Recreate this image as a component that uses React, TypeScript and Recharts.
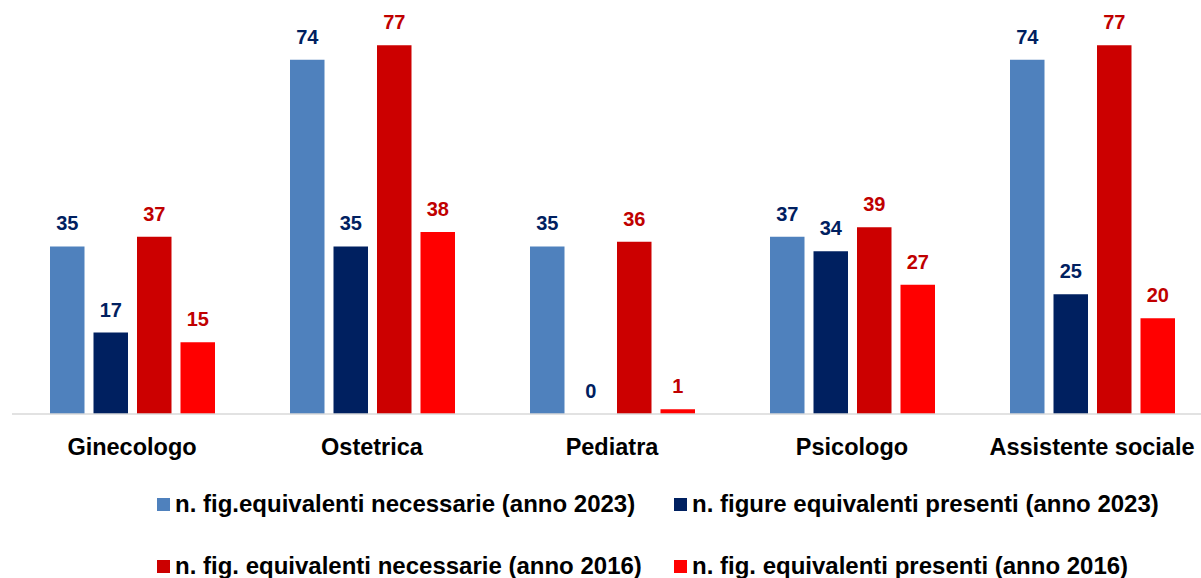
import { BarChart, Bar, XAxis, YAxis, LabelList } from "recharts";

// ─── Data ────────────────────────────────────────────────────────────────────

const categories = [
  "Ginecologo",
  "Ostetrica",
  "Pediatra",
  "Psicologo",
  "Assistente sociale",
];
const nec2023 = [35, 74, 35, 37, 74];
const pres2023 = [17, 35, 0, 34, 25];
const nec2016 = [37, 77, 36, 39, 77];
const pres2016 = [15, 38, 1, 27, 20];

const seriesNames = [
  "n. fig.equivalenti necessarie (anno 2023)",
  "n. figure equivalenti presenti (anno 2023)",
  "n. fig. equivalenti necessarie (anno 2016)",
  "n. fig. equivalenti presenti (anno 2016)",
];

const FONT = '"Liberation Sans", Arial, sans-serif';

const series = [
  { key: "nec2023", name: seriesNames[0], fill: "#4F81BD", label: "#002060" },
  { key: "pres2023", name: seriesNames[1], fill: "#002060", label: "#002060" },
  { key: "nec2016", name: seriesNames[2], fill: "#CC0000", label: "#C00000" },
  { key: "pres2016", name: seriesNames[3], fill: "#FF0000", label: "#C00000" },
];

const rows = categories.map((c, i) => ({
  category: c,
  nec2023: nec2023[i],
  pres2023: pres2023[i],
  nec2016: nec2016[i],
  pres2016: pres2016[i],
}));

// legend grid positions (2 x 2)
const legendSlots = [
  { left: 157, top: 492 },
  { left: 674, top: 492 },
  { left: 157, top: 554 },
  { left: 674, top: 554 },
];

// keeps a label on zero-valued bars without drawing a visible bar
const tinyMin = (value: number) => (value === 0 ? 0.01 : 0);

// ─── Component ────────────────────────────────────────────────────────────────

export default function App() {
  return (
    <div
      style={{
        position: "absolute",
        left: 0,
        top: 0,
        width: 1201,
        height: 578,
        overflow: "hidden",
        background: "#fff",
        fontFamily: FONT,
      }}
    >
      <BarChart
        width={1212}
        height={578}
        data={rows}
        margin={{ top: 31, right: 0, left: 12, bottom: 134 }}
        barGap={9}
        barSize={34.5}
      >
        <XAxis
          dataKey="category"
          height={30}
          axisLine={{ stroke: "#D9D9D9", strokeWidth: 1.5 }}
          tickLine={false}
          tickMargin={18}
          interval={0}
          tick={{ fill: "#000", fontSize: 23.5, fontWeight: 700, fontFamily: FONT }}
        />
        <YAxis hide domain={[0, 80]} />
        {series.map((s) => (
          <Bar
            key={s.key}
            dataKey={s.key}
            name={s.name}
            fill={s.fill}
            minPointSize={tinyMin}
            isAnimationActive={false}
          >
            <LabelList
              dataKey={s.key}
              position="top"
              offset={16}
              fill={s.label}
              fontSize={20}
              fontWeight={700}
              fontFamily={FONT}
            />
          </Bar>
        ))}
      </BarChart>

      {series.map((s, i) => (
        <div
          key={s.key}
          style={{
            position: "absolute",
            left: legendSlots[i].left,
            top: legendSlots[i].top,
            height: 24,
            lineHeight: "24px",
            display: "flex",
            alignItems: "center",
            whiteSpace: "nowrap",
            fontSize: 24,
            fontWeight: 700,
            color: "#000",
          }}
        >
          <span
            style={{
              display: "inline-block",
              width: 13,
              height: 13,
              background: s.fill,
              marginRight: 5,
            }}
          />
          {s.name}
        </div>
      ))}
    </div>
  );
}
